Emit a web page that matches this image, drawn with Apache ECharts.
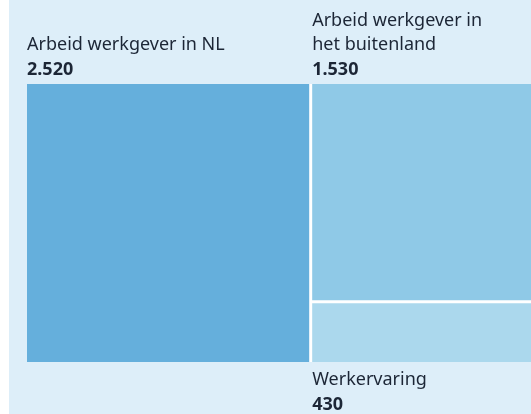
<!DOCTYPE html>
<html>
<head>
<meta charset="utf-8">
<script src="https://cdn.jsdelivr.net/npm/echarts@6/dist/echarts.min.js"></script>
<style>
  html, body { margin: 0; padding: 0; background: #fff; }
  #chart { width: 531px; height: 414px; }
</style>
</head>
<body>
<div id="chart"></div>
<script>
var categories = ['Arbeid werkgever in NL', 'Arbeid werkgever in het buitenland', 'Werkervaring'];
var labelLines = ['Arbeid werkgever in NL', 'Arbeid werkgever in\nhet buitenland', 'Werkervaring'];
var values = [2520, 1530, 430];
var colors = ['#65afdc', '#8fc9e7', '#abd8ed'];
var labelSide = ['top', 'top', 'bottom'];

var TM_LEFT = 27, TM_TOP = 84;
var TEXT_COLOR = '#1c2636';

var chart = echarts.init(document.getElementById('chart'));

function fmt(v) {
  return String(v).replace(/\B(?=(\d{3})+(?!\d))/g, '.');
}

var treeData = categories.map(function (name, i) {
  return { name: name, value: values[i], itemStyle: { color: colors[i] } };
});

var option = {
  animation: false,
  graphic: [{
    type: 'rect',
    left: 9, top: 0,
    shape: { width: 522, height: 414 },
    style: { fill: '#ddeef9' },
    z: -10
  }],
  series: [{
    type: 'treemap',
    left: TM_LEFT, top: TM_TOP, right: 0, bottom: 52,
    roam: false,
    nodeClick: false,
    breadcrumb: { show: false },
    levels: [{ itemStyle: { gapWidth: 3, borderWidth: 0 } }],
    itemStyle: { borderWidth: 0, gapWidth: 3 },
    label: { show: false },
    upperLabel: { show: false },
    data: treeData
  }]
};

chart.setOption(option);

// labels sit outside the blocks, so place them from the treemap's own layout
var root = chart.getModel().getSeriesByIndex(0).getData().tree.root;
var rootLayout = root.getLayout() || { x: 0, y: 0 };
var labels = root.children.map(function (node, i) {
  var l = node.getLayout();
  var x = TM_LEFT + rootLayout.x + l.x;
  var top = labelSide[i] === 'top';
  var y = top ? TM_TOP + rootLayout.y + l.y - 2 : TM_TOP + rootLayout.y + l.y + l.height + 6;
  return {
    type: 'text',
    x: x, y: y,
    silent: true,
    style: {
      text: labelLines[i] + '\n{v|' + fmt(values[i]) + '}',
      fill: TEXT_COLOR,
      font: '18px "Noto Sans"',
      lineHeight: 24.5,
      align: 'left',
      verticalAlign: top ? 'bottom' : 'top',
      rich: {
        v: { fontWeight: 'bold', fontSize: 18, fontFamily: 'Noto Sans', lineHeight: 24.5, fill: TEXT_COLOR }
      }
    }
  };
});

chart.setOption({ graphic: option.graphic.concat(labels) });
</script>
</body>
</html>
